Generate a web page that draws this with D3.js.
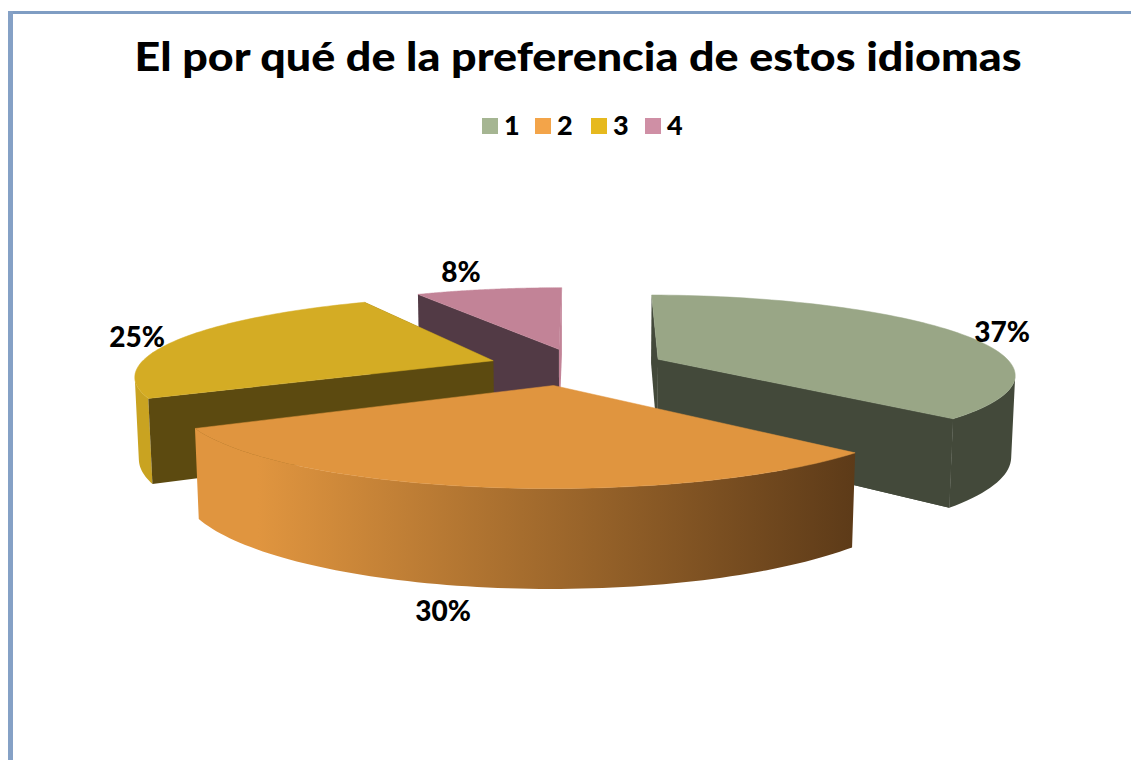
<!DOCTYPE html>
<html><head><meta charset="utf-8">
<style>html,body{margin:0;padding:0;background:#fff}svg{display:block}text{font-family:Lato,"Open Sans",sans-serif;font-weight:900;fill:#000}</style>
<script src="https://cdn.jsdelivr.net/npm/d3@7/dist/d3.min.js"></script>
</head><body><svg id="c" width="1131" height="760"></svg>
<script>
const titleText = "El por qué de la preferencia de estos idiomas";
const categories = ["1","2","3","4"];
const values = [37,30,25,8];
const pctLabels = ["37%","30%","25%","8%"];
const topColors = ["#99a686","#e0953f","#d4ac24","#c28397"];
const legendColors = ["#a5b592","#f3a449","#e6b91e","#cf8fa5"];
const faceColors = ["#43493a","#5c3a18","#5c4a10","#523a45"];
const sideColors = ["#43493a","url(#wall2)","#c9a321","#c28397"];
const endFaceColors = ["#43493a","#5c3a18","#5c4a10","#c28397"];
const drawOrder = [3,2,0,1];

// layout (not data)
const labelXY = [[1002,332],[443,611],[137,337],[461,272]];
const legendX = [482,535,591,645];
const sliceNudge = [3,-9,1,4];
const sliceExplode = [88,84,88,84];
const sliceTurnDeg = [1,1,1.5,0];

const W=1131,H=760;
const svg=d3.select("#c");
const defs=svg.append("defs");
const g=defs.append("linearGradient").attr("id","wall2").attr("gradientUnits","userSpaceOnUse")
  .attr("x1",258).attr("x2",858).attr("y1",0).attr("y2",0);
g.append("stop").attr("offset",0).attr("stop-color","#e0953f");
g.append("stop").attr("offset",1).attr("stop-color","#5c3a18");

// frame
svg.append("rect").attr("x",8).attr("y",11).attr("width",W).attr("height",3).attr("fill","#7f9dc3");
svg.append("rect").attr("x",8).attr("y",11).attr("width",5).attr("height",H).attr("fill","#85a1c6");

svg.append("text").attr("x",578).attr("y",71).attr("text-anchor","middle").attr("font-size",40.5)
  .attr("textLength",887).attr("lengthAdjust","spacingAndGlyphs").text(titleText);

// legend
categories.forEach((c,i)=>{
  svg.append("rect").attr("x",legendX[i]).attr("y",118).attr("width",16).attr("height",16).attr("fill",legendColors[i]);
  svg.append("text").attr("x",legendX[i]+22).attr("y",135).attr("font-size",27).text(c);
});

// 3D projection
const R=355,D=2000,F=2000,cx=575,cy=366.5,phi=12.65*Math.PI/180,H3=83;
function proj(u,v,h,dx){
  const y=v*Math.sin(phi)+h*Math.cos(phi), z=v*Math.cos(phi)-h*Math.sin(phi);
  const s=F/(D+z);
  return [cx+dx+u*s, cy-y*s];
}
const line=d3.line();
const arcs=d3.pie().sort(null).startAngle(0).endAngle(2*Math.PI)(values);
drawOrder.forEach(i=>{
  const a=arcs[i], turn=sliceTurnDeg[i]*Math.PI/180;
  const a0=a.startAngle+turn, a1=a.endAngle+turn, mid=(a0+a1)/2, e=sliceExplode[i];
  const ox=e*Math.sin(mid), oy=e*Math.cos(mid);
  const P=(ang,r,h)=>proj(ox+r*Math.sin(ang),oy+r*Math.cos(ang),h,sliceNudge[i]);
  const angs=d3.range(0,81).map(k=>a0+(a1-a0)*k/80);
  const layer=svg.append("g");
  const face=ang=>line([P(ang,0,0),P(ang,R,0),P(ang,R,-H3),P(ang,0,-H3)])+"Z";
  if(i!==1) layer.append("path").attr("fill",endFaceColors[i]).attr("d",face(a1));
  // outer wall: only the runs of the rim that face the viewer, each as one path
  const runs=[];
  d3.pairs(angs).forEach(([t0,t1])=>{
    const front=d3.polygonArea([P(t0,R,0),P(t1,R,0),P(t1,R,-H3),P(t0,R,-H3)])>0;
    const last=runs[runs.length-1];
    if(last&&last.front===front) last.ts.push(t1); else runs.push({front,ts:[t0,t1]});
  });
  layer.selectAll("path.wall").data(runs.filter(r=>r.front)).join("path").attr("class","wall")
    .attr("fill",sideColors[i])
    .attr("d",r=>line(r.ts.map(t=>P(t,R,0)).concat(r.ts.slice().reverse().map(t=>P(t,R,-H3))))+"Z");
  if(i!==1) layer.append("path").attr("fill",faceColors[i]).attr("d",face(a0));
  if(i===0) layer.append("path").attr("fill",endFaceColors[i]).attr("d",face(a1));
  layer.append("path").attr("fill",topColors[i]).attr("stroke",topColors[i]).attr("stroke-width",0.5)
    .attr("d",line([P(a0,0,0)].concat(angs.map(t=>P(t,R,0))))+"Z");
});

pctLabels.forEach((t,i)=>{
  svg.append("text").attr("x",labelXY[i][0]).attr("y",labelXY[i][1]+9.5).attr("text-anchor","middle").attr("font-size",28).text(t);
});
</script></body></html>
